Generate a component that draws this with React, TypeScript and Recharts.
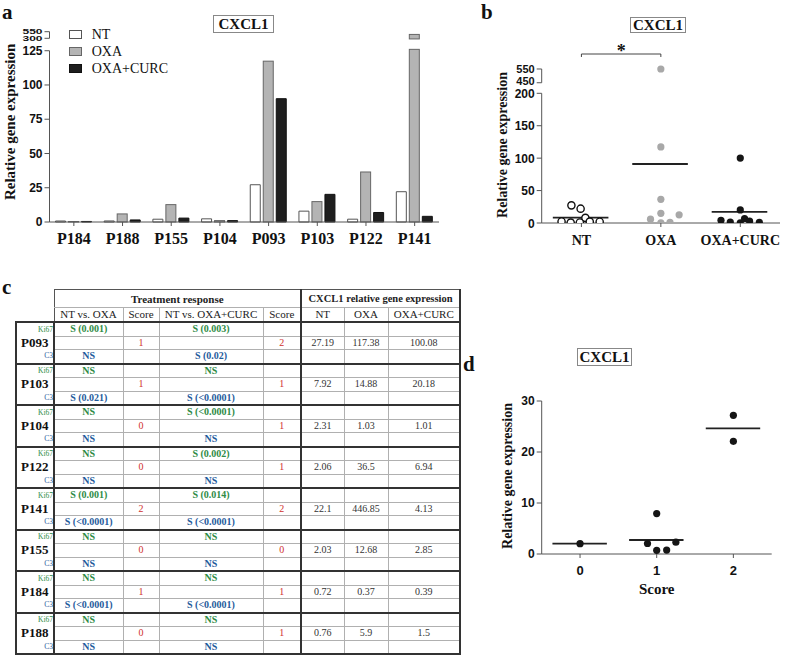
import React from "react";
import { BarChart, Bar, XAxis, YAxis, ReferenceLine, ScatterChart, Scatter } from "recharts";

const SERIF = '"Liberation Serif", "Times New Roman", serif';
const SANS = '"Liberation Sans", Arial, sans-serif';

// panel a
const patients = ["P184", "P188", "P155", "P104", "P093", "P103", "P122", "P141"];
const ntValues = [0.72, 0.76, 2.03, 2.31, 27.19, 7.92, 2.06, 22.1];
const oxaValues = [0.37, 5.9, 12.68, 1.03, 117.38, 14.88, 36.5, 446.85];
const curcValues = [0.39, 1.5, 2.85, 1.01, 90, 20.18, 6.94, 4.13];
const seriesNames = ["NT", "OXA", "OXA+CURC"];
const ticksA = [0, 25, 50, 75, 100, 125, 300, 550];

// panel b
const groupsB = ["NT", "OXA", "OXA+CURC"];
const ntB = [27.19, 22.1, 7.92, 2.31, 0.72, 0.76, 2.06, 2.03];
const ntBx = [-0.126, -0.01, 0.05, -0.25, -0.135, -0.02, 0.105, 0.23];
const oxaB = [550, 117.38, 36.5, 14.88, 12.68, 5.9, 0.37, 1.03];
const oxaBx = [1, 1, 1, 1, 1.23, 0.87, 1, 1.115];
const curcB = [100.08, 20.18, 4.13, 1.5, 0.39, 6.94, 2.85, 1.01];
const curcBx = [2, 2, 1.757, 1.874, 2, 2.054, 2.117, 2.24];
const meansB = [8.14, 91, 17.1];
const ticksB = [0, 50, 100, 150, 200, 450, 550];

// panel d
const scoresD = [0, 1, 1, 1, 1, 1, 2, 2];
const scoresDx = [0, 1, 0.88, 1, 1.13, 1.25, 2, 2];
const ntD = [2.03, 7.92, 2.06, 0.72, 0.76, 2.31, 27.19, 22.1];
const meansD = [2.03, 2.75, 24.65];
const ticksD = [0, 10, 20, 30];

// panel c
const patientsT = ["P093", "P103", "P104", "P122", "P141", "P155", "P184", "P188"];
const ki67Oxa = ["S (0.001)", "NS", "NS", "NS", "S (0.001)", "NS", "NS", "NS"];
const c3Oxa = ["NS", "S (0.021)", "NS", "NS", "S (<0.0001)", "NS", "S (<0.0001)", "NS"];
const scoreOxa = ["1", "1", "0", "0", "2", "0", "1", "0"];
const ki67Curc = ["S (0.003)", "NS", "S (<0.0001)", "S (0.002)", "S (0.014)", "NS", "NS", "NS"];
const c3Curc = ["S (0.02)", "S (<0.0001)", "NS", "NS", "S (<0.0001)", "NS", "S (<0.0001)", "NS"];
const scoreCurc = ["2", "1", "1", "1", "2", "0", "1", "1"];
const ntT = ["27.19", "7.92", "2.31", "2.06", "22.1", "2.03", "0.72", "0.76"];
const oxaT = ["117.38", "14.88", "1.03", "36.5", "446.85", "12.68", "0.37", "5.9"];
const curcT = ["100.08", "20.18", "1.01", "6.94", "4.13", "2.85", "0.39", "1.5"];

const FILLS = ["#ffffff", "#b4b4b4", "#1e1e1e"];
const STROKES = ["#555555", "#666666", "#111111"];
const AXIS = "#555";

// broken axis helpers
const brkA = (v: number) => (v <= 125 ? v : 134.06 + ((v - 300) * 4.82) / 250);
const brkB = (v: number) => (v <= 200 ? v : 216.3 + (v - 450) * 0.212);

const dataA = patients.map((p, i) => ({ patient: p, nt: ntValues[i], oxa: oxaValues[i], curc: curcValues[i] }));
const ptsNT = ntB.map((v, i) => ({ x: ntBx[i], y: brkB(v) }));
const ptsOXA = oxaB.map((v, i) => ({ x: oxaBx[i], y: brkB(v) }));
const ptsCURC = curcB.map((v, i) => ({ x: curcBx[i], y: brkB(v) }));
const ptsD = ntD.map((v, i) => ({ x: scoresDx[i], y: v, score: scoresD[i] }));

const yTitle = (dx: number, shift: number, size: number) => (props: any) => {
  const vb = props.viewBox || { x: 0, y: 0, width: 0, height: 0 };
  const cx = (vb.x || 0) + dx;
  const cy = (vb.y || 0) + (vb.height || 0) / 2 + shift;
  return (
    <text
      x={cx}
      y={cy}
      transform={`rotate(-90 ${cx} ${cy})`}
      textAnchor="middle"
      dominantBaseline="central"
      fontFamily={SERIF}
      fontWeight="bold"
      fontSize={size}
      fill="#111"
    >
      Relative gene expression
    </text>
  );
};

const renderTickA = (props: any) => {
  const { x, y, payload } = props;
  const v = ticksA.find((t) => Math.abs(brkA(t) - payload.value) < 1e-6) ?? payload.value;
  const squeezed = v > 125;
  return (
    <g transform={`translate(${x},${y})${squeezed ? " scale(1,0.6)" : ""}`}>
      <text x={0} y={0} dy="0.35em" textAnchor="end" fontFamily={SANS} fontWeight="bold" fontSize={12} fill="#111">
        {v}
      </text>
    </g>
  );
};

const renderTickB = (props: any) => {
  const { x, y, payload } = props;
  const v = ticksB.find((t) => Math.abs(brkB(t) - payload.value) < 1e-6) ?? payload.value;
  return (
    <text x={x} y={y} dy={v === 450 ? "0.25em" : "0.38em"} textAnchor="end" fontFamily={SANS} fontWeight="bold" fontSize={v > 200 ? 11 : 12} fill="#111">
      {v}
    </text>
  );
};

const BrokenBar = (props: any) => {
  const { x, y, width, height, payload, fill, stroke } = props;
  const tv = brkA(payload.oxa);
  if (tv <= 126 || !height) {
    return <rect x={x} y={y} width={width} height={height} fill={fill} stroke={stroke} />;
  }
  const ppu = height / tv;
  const base = y + height;
  const lowTop = base - 126 * ppu;
  const highBottom = base - 133.6 * ppu;
  return (
    <g>
      <rect x={x} y={lowTop} width={width} height={base - lowTop} fill={fill} stroke={stroke} />
      <rect x={x} y={y} width={width} height={highBottom - y} fill={fill} stroke={stroke} />
    </g>
  );
};

const dot = (fill: string, stroke: string, sw = 0) => (p: any) => (
  <circle cx={p.cx} cy={p.cy} r={3.6} fill={fill} stroke={stroke} strokeWidth={sw} />
);

const TitleBox = ({ left, top, width, height }: { left: number; top: number; width: number; height: number }) => (
  <div
    style={{
      position: "absolute",
      left,
      top,
      width,
      height,
      boxSizing: "border-box",
      border: "1px solid #888",
      font: `bold 15px ${SERIF}`,
      lineHeight: `${height - 2}px`,
      textAlign: "center",
      color: "#111",
    }}
  >
    CXCL1
  </div>
);

const PanelLetter = ({ left, top, text }: { left: number; top: number; text: string }) => (
  <div style={{ position: "absolute", left, top, font: `bold 21px ${SERIF}`, lineHeight: "24px", color: "#111" }}>{text}</div>
);

const GREEN = "#2e8b45";
const BLUE = "#1f5b9c";
const RED = "#d0312d";
const thin = "1px solid #b0b0b0";
const thick = "2px solid #333";
const colW = [38, 69, 36, 104, 38, 43, 44, 72];

const ResultTable = () => {
  const base: React.CSSProperties = { padding: 0, textAlign: "center", whiteSpace: "nowrap", overflow: "hidden" };
  const bodyCell = (r: number, c: number): React.CSSProperties => ({
    ...base,
    height: 12.5,
    lineHeight: "12px",
    borderTop: r === 0 ? thick : thin,
    borderBottom: r === 2 ? thick : thin,
    borderLeft: thin,
    borderRight: c === 4 || c === 7 ? thick : thin,
    fontSize: 10,
  });
  const patCell = (r: number): React.CSSProperties => ({
    ...base,
    height: 12.5,
    lineHeight: "12px",
    borderLeft: thick,
    borderRight: thick,
    borderTop: r === 0 ? thick : "none",
    borderBottom: r === 2 ? thick : "none",
  });
  const res = (t: string, color: string) => <span style={{ color, fontWeight: "bold" }}>{t}</span>;
  const hdr: React.CSSProperties = { ...base, fontSize: 11, color: "#222", height: 13, lineHeight: "13px", borderLeft: thin, borderRight: thin, borderTop: thin };
  return (
    <table
      style={{
        position: "absolute",
        left: 15,
        top: 289,
        borderCollapse: "collapse",
        tableLayout: "fixed",
        width: colW.reduce((a, b) => a + b, 0),
        fontFamily: SERIF,
        color: "#333",
      }}
    >
      <colgroup>
        {colW.map((w, i) => (
          <col key={i} style={{ width: w }} />
        ))}
      </colgroup>
      <tbody>
        <tr>
          <td style={{ ...base, border: "none" }} />
          <td colSpan={4} style={{ ...base, height: 17, fontSize: 11, fontWeight: "bold", color: "#222", border: "1px solid #555", borderRight: thick, borderBottom: thin }}>
            Treatment response
          </td>
          <td colSpan={3} style={{ ...base, fontSize: 10.5, fontWeight: "bold", color: "#222", border: "1px solid #555", borderRight: thick, borderBottom: thin }}>
            CXCL1 relative gene expression
          </td>
        </tr>
        <tr>
          <td style={{ ...base, border: "none" }} />
          <td style={{ ...hdr, borderLeft: "1px solid #555" }}>NT vs. OXA</td>
          <td style={hdr}>Score</td>
          <td style={hdr}>NT vs. OXA+CURC</td>
          <td style={{ ...hdr, borderRight: thick }}>Score</td>
          <td style={hdr}>NT</td>
          <td style={hdr}>OXA</td>
          <td style={{ ...hdr, borderRight: thick }}>OXA+CURC</td>
        </tr>
        {patientsT.map((p, i) => (
          <React.Fragment key={p}>
            <tr>
              <td style={{ ...patCell(0), textAlign: "right", fontSize: 7.5, color: GREEN }}>Ki67</td>
              <td style={bodyCell(0, 1)}>{res(ki67Oxa[i], GREEN)}</td>
              <td style={bodyCell(0, 2)} />
              <td style={bodyCell(0, 3)}>{res(ki67Curc[i], GREEN)}</td>
              <td style={bodyCell(0, 4)} />
              <td style={bodyCell(0, 5)} />
              <td style={bodyCell(0, 6)} />
              <td style={bodyCell(0, 7)} />
            </tr>
            <tr>
              <td style={{ ...patCell(1), textAlign: "left", paddingLeft: 4, fontSize: 13, fontWeight: "bold", color: "#111" }}>{p}</td>
              <td style={bodyCell(1, 1)} />
              <td style={{ ...bodyCell(1, 2), color: RED }}>{scoreOxa[i]}</td>
              <td style={bodyCell(1, 3)} />
              <td style={{ ...bodyCell(1, 4), color: RED }}>{scoreCurc[i]}</td>
              <td style={bodyCell(1, 5)}>{ntT[i]}</td>
              <td style={bodyCell(1, 6)}>{oxaT[i]}</td>
              <td style={bodyCell(1, 7)}>{curcT[i]}</td>
            </tr>
            <tr>
              <td style={{ ...patCell(2), textAlign: "right", fontSize: 7.5, color: BLUE }}>C3</td>
              <td style={bodyCell(2, 1)}>{res(c3Oxa[i], BLUE)}</td>
              <td style={bodyCell(2, 2)} />
              <td style={bodyCell(2, 3)}>{res(c3Curc[i], BLUE)}</td>
              <td style={bodyCell(2, 4)} />
              <td style={bodyCell(2, 5)} />
              <td style={bodyCell(2, 6)} />
              <td style={bodyCell(2, 7)} />
            </tr>
          </React.Fragment>
        ))}
      </tbody>
    </table>
  );
};

const axisTickSerif = { fontFamily: SERIF, fontWeight: "bold", fontSize: 16, fill: "#111" };

export default function App() {
  return (
    <div style={{ position: "absolute", left: 0, top: 0, width: 787, height: 661, background: "#fff", overflow: "hidden" }}>
      {/* panel a */}
      <div style={{ position: "absolute", left: 0, top: 0 }}>
        <BarChart width={450} height={260} data={dataA} margin={{ top: 31.7, right: 11, bottom: 8, left: 0 }} barGap={3} barSize={10}>
          <XAxis
            dataKey="patient"
            interval={0}
            height={30}
            axisLine={{ stroke: AXIS }}
            tickLine={{ stroke: AXIS }}
            tickSize={4}
            tickMargin={7}
            tick={axisTickSerif}
          />
          <YAxis
            type="number"
            domain={[0, brkA(550)]}
            ticks={ticksA.map(brkA)}
            interval={0}
            width={49.5}
            axisLine={false}
            tickLine={{ stroke: AXIS }}
            tickSize={5}
            tick={renderTickA}
            label={yTitle(10, -5, 15)}
          />
          <Bar dataKey={(d: any) => brkA(d.nt)} name="NT" fill={FILLS[0]} stroke={STROKES[0]} isAnimationActive={false} />
          <Bar dataKey={(d: any) => brkA(d.oxa)} name="OXA" fill={FILLS[1]} stroke={STROKES[1]} shape={BrokenBar} isAnimationActive={false} />
          <Bar dataKey={(d: any) => brkA(d.curc)} name="OXA+CURC" fill={FILLS[2]} stroke={STROKES[2]} isAnimationActive={false} />
          <ReferenceLine segment={[{ x: patients[0], y: 0 }, { x: patients[0], y: 125 }]} position="start" stroke={AXIS} />
          <ReferenceLine segment={[{ x: patients[0], y: brkA(300) }, { x: patients[0], y: brkA(550) }]} position="start" stroke={AXIS} />
        </BarChart>
      </div>
      <div style={{ position: "absolute", left: 69, top: 26 }}>
        {seriesNames.map((n, i) => (
          <div key={n} style={{ display: "flex", alignItems: "center", height: 17.2 }}>
            <span
              style={{
                display: "inline-block",
                width: 13,
                height: 9,
                boxSizing: "border-box",
                border: `1px solid ${STROKES[i]}`,
                background: FILLS[i],
                marginRight: 9.7,
              }}
            />
            <span style={{ font: `14px ${SERIF}`, color: "#111" }}>{n}</span>
          </div>
        ))}
      </div>
      <TitleBox left={213} top={15} width={61} height={18} />
      <PanelLetter left={2} top={0} text="a" />

      {/* panel b */}
      <div style={{ position: "absolute", left: 470, top: 0 }}>
        <ScatterChart width={317} height={260} margin={{ top: 40, right: 7, bottom: 7, left: 0 }}>
          <XAxis
            type="number"
            dataKey="x"
            domain={[-0.5, 2.5]}
            ticks={[0, 1, 2]}
            interval={0}
            allowDataOverflow
            tickFormatter={(v: number) => groupsB[v]}
            height={30}
            axisLine={{ stroke: AXIS }}
            tickLine={{ stroke: AXIS }}
            tickSize={4}
            tickMargin={8}
            tick={{ ...axisTickSerif, fontSize: 14 }}
          />
          <YAxis
            type="number"
            dataKey="y"
            domain={[0, 282.2]}
            ticks={ticksB.map(brkB)}
            interval={0}
            allowDataOverflow
            width={71.7}
            axisLine={false}
            tickLine={{ stroke: AXIS }}
            tickSize={5}
            tick={renderTickB}
            label={yTitle(32, 13.5, 14)}
          />
          <ReferenceLine segment={[{ x: -0.5, y: 0 }, { x: -0.5, y: 200 }]} stroke={AXIS} />
          <ReferenceLine segment={[{ x: -0.5, y: brkB(450) }, { x: -0.5, y: brkB(550) }]} stroke={AXIS} />
          {meansB.map((m, i) => (
            <ReferenceLine key={i} segment={[{ x: i - 0.36, y: m }, { x: i + 0.34, y: m }]} stroke="#222" strokeWidth={1.8} />
          ))}
          <ReferenceLine segment={[{ x: 0, y: 256 }, { x: 0, y: 260.6 }]} stroke="#444" />
          <ReferenceLine segment={[{ x: 1, y: 256 }, { x: 1, y: 260.6 }]} stroke="#444" />
          <ReferenceLine
            segment={[{ x: 0, y: 260.6 }, { x: 1, y: 260.6 }]}
            stroke="#444"
            label={{ value: "*", position: "top", offset: -3, style: { fontFamily: SERIF, fontWeight: "bold", fontSize: 18, fill: "#111" } }}
          />
          <Scatter data={ptsNT} shape={dot("#fff", "#111", 1.4)} isAnimationActive={false} />
          <Scatter data={ptsOXA} shape={dot("#a8a8a8", "none")} isAnimationActive={false} />
          <Scatter data={ptsCURC} shape={dot("#151515", "none")} isAnimationActive={false} />
        </ScatterChart>
      </div>
      <TitleBox left={630} top={17} width={56} height={16} />
      <PanelLetter left={481} top={0} text="b" />

      {/* panel c */}
      <PanelLetter left={2} top={275} text="c" />
      <ResultTable />

      {/* panel d */}
      <div style={{ position: "absolute", left: 460, top: 380 }}>
        <ScatterChart width={327} height={230} margin={{ top: 21, right: 15.3, bottom: 11, left: 0 }}>
          <XAxis
            type="number"
            dataKey="x"
            domain={[-0.5, 2.5]}
            ticks={[0, 1, 2]}
            interval={0}
            allowDataOverflow
            height={45}
            axisLine={{ stroke: AXIS }}
            tickLine={{ stroke: AXIS }}
            tickSize={4}
            tickMargin={8}
            tick={{ fontFamily: SANS, fontWeight: "bold", fontSize: 13, fill: "#111" }}
            label={{ value: "Score", position: "insideBottom", offset: 5, style: { fontFamily: SERIF, fontWeight: "bold", fontSize: 15, fill: "#111" } }}
          />
          <YAxis
            type="number"
            dataKey="y"
            domain={[0, 30]}
            ticks={ticksD}
            interval={0}
            width={81.7}
            axisLine={{ stroke: AXIS }}
            tickLine={{ stroke: AXIS }}
            tickSize={5}
            tick={{ fontFamily: SANS, fontWeight: "bold", fontSize: 12, fill: "#111" }}
            label={yTitle(47, -1.5, 14)}
          />
          {meansD.map((m, i) => (
            <ReferenceLine key={i} segment={[{ x: i - 0.36, y: m }, { x: i + 0.35, y: m }]} stroke="#222" strokeWidth={1.8} />
          ))}
          <Scatter data={ptsD} shape={dot("#151515", "none")} isAnimationActive={false} />
        </ScatterChart>
      </div>
      <TitleBox left={577} top={348} width={55} height={18} />
      <PanelLetter left={463} top={352} text="d" />
    </div>
  );
}
